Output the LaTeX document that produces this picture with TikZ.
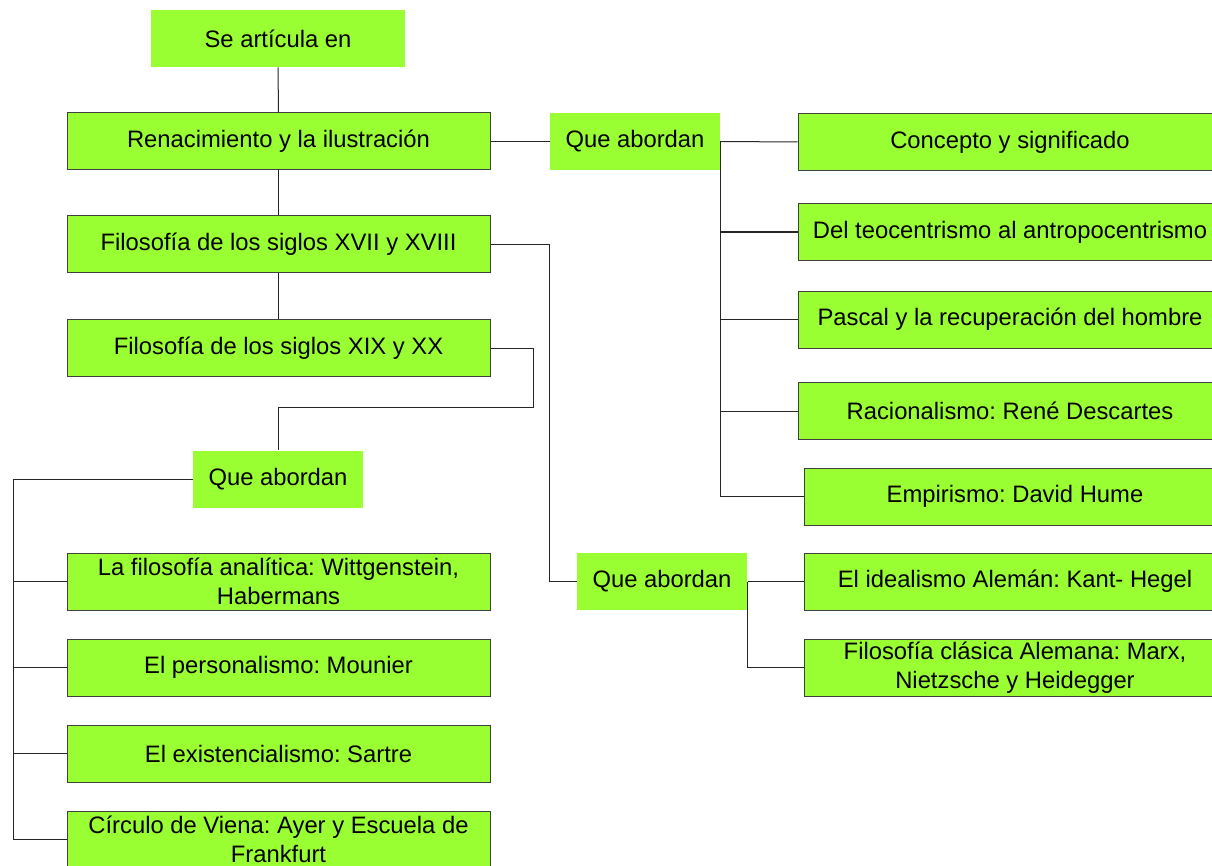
\documentclass[tikz,border=0pt]{standalone}
\usepackage{fontspec}
\setmainfont{Liberation Sans}
\frenchspacing
\definecolor{boxgreen}{RGB}{153,255,51}
\begin{document}
\begin{tikzpicture}[x=0.75pt,y=-0.75pt,
  box/.style={draw=black!75, line width=0.75pt, fill=boxgreen, minimum height=42.75pt,
    minimum width=317.25pt, inner sep=0pt, align=center,
    font=\fontsize{17.85}{21.8}\selectfont\frenchspacing},
  rbox/.style={box, minimum width=318pt},
  r2box/.style={box, minimum width=316.5pt},
  plain/.style={box, draw=none, minimum width=127.5pt},
  link/.style={draw=black!85, line width=0.75pt}]
\useasboundingbox (0,0) rectangle (1212,866);
% left column
\node[plain, minimum width=190.5pt] (se) at (278,38.5) {Se artícula en};
\node[box] (ren) at (278.5,141.5) {Renacimiento y la ilustración};
\node[box] (xvii) at (278.5,244) {Filosofía de los siglos XVII y XVIII};
\node[box] (xix) at (278.5,348) {Filosofía de los siglos XIX y XX};
\node[plain] (qa3) at (278,479) {Que abordan};
\node[box] (d1) at (278.5,581.5) {La filosofía analítica: Wittgenstein,\\Habermans};
\node[box] (d2) at (278.5,667.5) {El personalismo: Mounier};
\node[box] (d3) at (278.5,753.5) {El existencialismo: Sartre};
\node[box] (d4) at (278.5,839.5) {Círculo de Viena: Ayer y Escuela de\\Frankfurt};
% right column
\node[plain] (qa1) at (635,141.5) {Que abordan};
\node[rbox] (c1) at (1010,142) {Concepto y significado};
\node[rbox] (c2) at (1010,232) {Del teocentrismo al antropocentrismo};
\node[rbox] (c3) at (1010,319.5) {Pascal y la recuperación del hombre};
\node[rbox] (c4) at (1010,411) {Racionalismo: René Descartes};
\node[r2box] (c5) at (1015,496.7) {Empirismo: David Hume};
\node[plain] (qa2) at (662,581.5) {Que abordan};
\node[r2box] (e1) at (1015,581.5) {El idealismo Alemán: Kant- Hegel};
\node[r2box] (e2) at (1015,667.5) {Filosofía clásica Alemana: Marx,\\Nietzsche y Heidegger};
% helper coordinates
\coordinate (k1) at (549,0);
\coordinate (j1) at (533,407);
\coordinate (l1) at (13,0);
% connectors
\draw[link] (se.south) -- (ren.north);
\draw[link] (ren.south) -- (xvii.north);
\draw[link] (xvii.south) -- (xix.north);
\draw[link] (ren.east) -- (qa1.west);
\draw[link] (qa1.east) -- (c1.west);
\draw[link] (qa1.east) |- (c5.west);
\draw[link] (qa1.east |- c2.west) -- (c2.west);
\draw[link] (qa1.east |- c3.west) -- (c3.west);
\draw[link] (qa1.east |- c4.west) -- (c4.west);
\draw[link] (xvii.east) -- (xvii.east -| k1) |- (qa2.west);
\draw[link] (qa2.east) -- (e1.west);
\draw[link] (qa2.east) |- (e2.west);
\draw[link] (xix.east) -| (j1) -| (qa3.north);
\draw[link] (qa3.west) -| (l1 |- d4.west) -- (d4.west);
\draw[link] (l1 |- d1.west) -- (d1.west);
\draw[link] (l1 |- d2.west) -- (d2.west);
\draw[link] (l1 |- d3.west) -- (d3.west);
\end{tikzpicture}
\end{document}
